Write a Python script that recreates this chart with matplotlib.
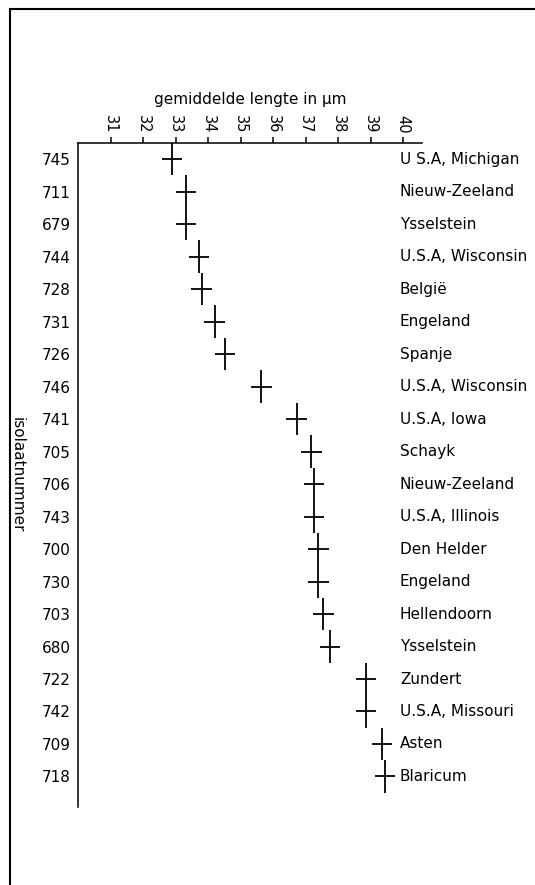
import matplotlib
matplotlib.use('Agg')
import matplotlib.pyplot as plt
import matplotlib.transforms as mtransforms
from matplotlib.lines import Line2D

# gegevens, van boven naar onder
isolaten = ['745', '711', '679', '744', '728', '731', '726', '746', '741', '705',
            '706', '743', '700', '730', '703', '680', '722', '742', '709', '718']
herkomst = ['U S.A, Michigan', 'Nieuw-Zeeland', 'Ysselstein', 'U.S.A, Wisconsin',
            'België', 'Engeland', 'Spanje', 'U.S.A, Wisconsin', 'U.S.A, Iowa',
            'Schayk', 'Nieuw-Zeeland', 'U.S.A, Illinois', 'Den Helder', 'Engeland',
            'Hellendoorn', 'Ysselstein', 'Zundert', 'U.S.A, Missouri', 'Asten',
            'Blaricum']
lengte = [32.89, 33.32, 33.32, 33.72, 33.81, 34.21, 34.52, 35.64, 36.73, 37.17,
          37.26, 37.26, 37.39, 37.39, 37.54, 37.75, 38.86, 38.86, 39.35, 39.44]
x_ticks = [31, 32, 33, 34, 35, 36, 37, 38, 39, 40]

plt.rcParams['font.family'] = ['DejaVu Sans']

fig = plt.figure(figsize=(5.35, 8.85), dpi=100)
ax = fig.add_axes([78/535, 1 - 807/885, 344/535, 664/885])

pos = list(range(len(isolaten)))
ax.errorbar(lengte, pos, xerr=0.32, yerr=0.5, fmt='none', ecolor='black',
            elinewidth=1.3, capsize=0)

ax.set_xlim(30.0, 40.58)
ax.set_ylim(19.94, -0.5)

# spines: alleen links en boven
for s in ['right', 'bottom']:
    ax.spines[s].set_visible(False)
for s in ['left', 'top']:
    ax.spines[s].set_linewidth(1.1)

ax.xaxis.tick_top()
ax.xaxis.set_label_position('top')
ax.set_xticks(x_ticks)
ax.set_xticklabels([str(t) for t in x_ticks], rotation=-90, fontsize=10.5)
ax.tick_params(axis='x', direction='out', length=4, width=1.1, pad=3)

ax.set_yticks(pos)
ax.set_yticklabels(isolaten, fontsize=11)
ax.tick_params(axis='y', length=0, pad=5)

ax.set_xlabel('gemiddelde lengte in µm', fontsize=11, labelpad=8)
ax.set_ylabel('isolaatnummer', fontsize=11, rotation=-90, va='center')
ax.yaxis.set_label_coords(-0.177, 0.5)

# herkomst rechts naast de kruisjes
trans = mtransforms.blended_transform_factory(ax.transAxes, ax.transData)
for i, naam in enumerate(herkomst):
    ax.text(0.936, pos[i], naam, transform=trans, fontsize=11, va='center',
            ha='left', clip_on=False)

# rand van de pagina (links en boven)
fig.add_artist(Line2D([10/535, 10/535], [0, 1 - 9/885], transform=fig.transFigure,
                      color='black', lw=1.5))
fig.add_artist(Line2D([10/535, 1], [1 - 9/885, 1 - 9/885], transform=fig.transFigure,
                      color='black', lw=1.5))

fig.savefig('out.png', dpi=100)
